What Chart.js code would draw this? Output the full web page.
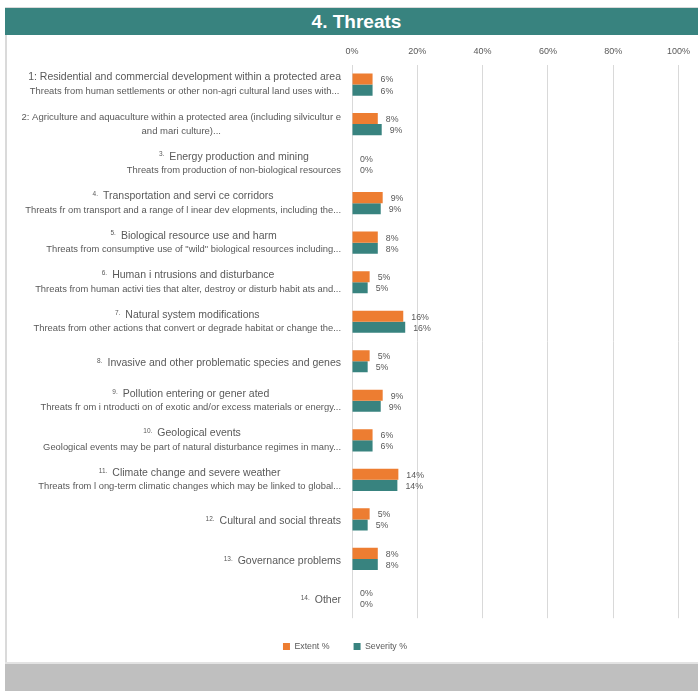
<!DOCTYPE html>
<html>
<head>
<meta charset="utf-8">
<title>4. Threats</title>
<script src="https://cdn.jsdelivr.net/npm/chart.js@4.4.0/dist/chart.umd.min.js"></script>
<style>
    body { margin: 0; background: #fff; font-family: 'Liberation Sans', Arial, sans-serif; }
    #panel { position: absolute; left: 5px; top: 7px; width: 693px; }
    .header {
        height: 28px; box-sizing: border-box; border-top: 1px solid #d9d9d9;
        background: #38837f; color: #fff; font-weight: bold; font-size: 19px;
        line-height: 27px; text-align: center; padding-left: 10px;
    }
    .chart-box { position: relative; height: 627px; border-left: 2px solid #dadada; }
    .footer { height: 27px; background: #bfbfbf; border-top: 2px solid #e3e3e3; }
</style>
</head>
<body>
<div id="panel">
    <div class="header">4. Threats</div>
    <div class="chart-box"><canvas id="threats-chart"></canvas></div>
    <div class="footer"></div>
</div>
<script>
// Threat categories, extent and severity shares (%)

const threatNumbers = ['1:', '2:', '3.', '4.', '5.', '6.', '7.', '8.', '9.', '10.', '11.', '12.', '13.', '14.'];

const threatTitles = [
    'Residential and commercial development within a protected area',
    'Agriculture and aquaculture within a protected area (including silvicultur e',
    'Energy production and mining',
    'Transportation and servi ce corridors',
    'Biological resource use and harm',
    'Human i ntrusions and disturbance',
    'Natural system modifications',
    'Invasive and other problematic species and genes',
    'Pollution entering or gener ated',
    'Geological events',
    'Climate change and severe weather',
    'Cultural and social threats',
    'Governance problems',
    'Other'
];

const threatNotes = [
    'Threats from human settlements or other non-agri cultural land uses with...',
    'and mari culture)...',
    'Threats from production of non-biological resources',
    'Threats fr om transport and a range of l inear dev elopments, including the...',
    'Threats from consumptive use of "wild" biological resources including...',
    'Threats from human activi ties that alter, destroy or disturb habit ats and...',
    'Threats from other actions that convert or degrade habitat or change the...',
    '',
    'Threats fr om i ntroducti on of exotic and/or excess materials or energy...',
    'Geological events may be part of natural disturbance regimes in many...',
    'Threats from l ong-term climatic changes which may be linked to global...',
    '',
    '',
    ''
];

const extentValues   = [6.3, 7.9, 0, 9.4, 7.9, 5.4, 15.7, 5.4, 9.4, 6.3, 14.2, 5.4, 7.9, 0];
const severityValues = [6.3, 9.1, 0, 8.8, 7.9, 4.8, 16.3, 4.8, 8.8, 6.3, 13.9, 4.8, 7.9, 0];

const axisTicks = [0, 20, 40, 60, 80, 100];

const TEXT_COLOR = '#595959';
const FONT = "'Liberation Sans', Arial, sans-serif";
const ORANGE = '#ed7d31';
const TEAL = '#38837f';

Chart.defaults.font.family = FONT;
Chart.defaults.color = TEXT_COLOR;

// category labels: title line (small raised number in front) and a note line, centred as a block
const threatLabels = {
    id: 'threatLabels',
    afterDraw(chart) {
        const ctx = chart.ctx;
        const yScale = chart.scales.y;
        const right = chart.chartArea.left - 11;
        const bigSize = 10.5;
        const noteSize = 9.4;
        const maxTitleW = 320;
        const numFont = '6.5px ' + FONT;

        ctx.save();
        ctx.fillStyle = TEXT_COLOR;
        ctx.textBaseline = 'middle';
        ctx.textAlign = 'left';

        threatTitles.forEach((title, i) => {
            const cy = yScale.getPixelForValue(i);
            const num = threatNumbers[i];
            const note = threatNotes[i];
            const inline = num.endsWith(':');
            const titleText = inline ? num + ' ' + title : title;

            // long titles get squeezed to fit, and their note follows the same size
            let titleSize = bigSize;
            let lineSize = noteSize;
            ctx.font = bigSize + 'px ' + FONT;
            const fullW = ctx.measureText(titleText).width;
            if (fullW > maxTitleW) {
                titleSize = bigSize * maxTitleW / fullW;
                lineSize = titleSize;
            }
            const titleFont = titleSize + 'px ' + FONT;
            const noteFont = lineSize + 'px ' + FONT;

            ctx.font = titleFont;
            const textW = ctx.measureText(titleText).width;
            ctx.font = numFont;
            const numW = inline ? 0 : ctx.measureText(num).width + 5;
            const titleW = textW + numW;

            ctx.font = noteFont;
            const noteW = note ? ctx.measureText(note).width : 0;

            const center = right - Math.max(titleW, noteW) / 2;
            const titleY = note ? cy - 7 : cy + 2;

            let x = center - titleW / 2;
            if (!inline) {
                ctx.font = numFont;
                ctx.fillText(num, x, titleY - 2);
                x += numW;
            }
            ctx.font = titleFont;
            ctx.fillText(titleText, x, titleY);

            if (note) {
                ctx.font = noteFont;
                ctx.fillText(note, center - noteW / 2, cy + 7);
            }
        });
        ctx.restore();
    }
};

// percentage value next to the end of every bar
const barValues = {
    id: 'barValues',
    afterDatasetsDraw(chart) {
        const ctx = chart.ctx;
        ctx.save();
        ctx.font = '8.8px ' + FONT;
        ctx.fillStyle = TEXT_COLOR;
        ctx.textAlign = 'left';
        ctx.textBaseline = 'middle';
        chart.data.datasets.forEach((ds, di) => {
            chart.getDatasetMeta(di).data.forEach((bar, i) => {
                ctx.fillText(Math.round(ds.data[i]) + '%', bar.x + 8, bar.y + 1);
            });
        });
        ctx.restore();
    }
};

const ctx = document.getElementById('threats-chart').getContext('2d');

new Chart(ctx, {
    type: 'bar',
    data: {
        labels: threatTitles,
        datasets: [
            {
                label: 'Extent %',
                data: extentValues,
                backgroundColor: ORANGE,
                categoryPercentage: 0.56,
                barPercentage: 1
            },
            {
                label: 'Severity %',
                data: severityValues,
                backgroundColor: TEAL,
                categoryPercentage: 0.56,
                barPercentage: 1
            }
        ]
    },
    options: {
        indexAxis: 'y',
        responsive: true,
        maintainAspectRatio: false,
        animation: false,
        layout: {
            padding: { top: 3, right: 15, bottom: 1, left: 0 }
        },
        plugins: {
            legend: {
                position: 'bottom',
                labels: {
                    boxWidth: 7,
                    boxHeight: 7,
                    padding: 24,
                    font: { size: 8.8 }
                }
            },
            tooltip: { enabled: false }
        },
        scales: {
            x: {
                position: 'top',
                min: 0,
                max: 100,
                afterBuildTicks: scale => {
                    scale.ticks = axisTicks.map(v => ({ value: v }));
                },
                ticks: {
                    padding: 8,
                    font: { size: 9 },
                    callback: value => value + '%'
                },
                grid: {
                    color: '#d9d9d9',
                    drawTicks: false
                },
                border: { display: false }
            },
            y: {
                ticks: { display: false },
                grid: { display: false },
                border: { display: false },
                afterFit: scale => { scale.width = 345; }
            }
        }
    },
    plugins: [threatLabels, barValues]
});
</script>
</body>
</html>
